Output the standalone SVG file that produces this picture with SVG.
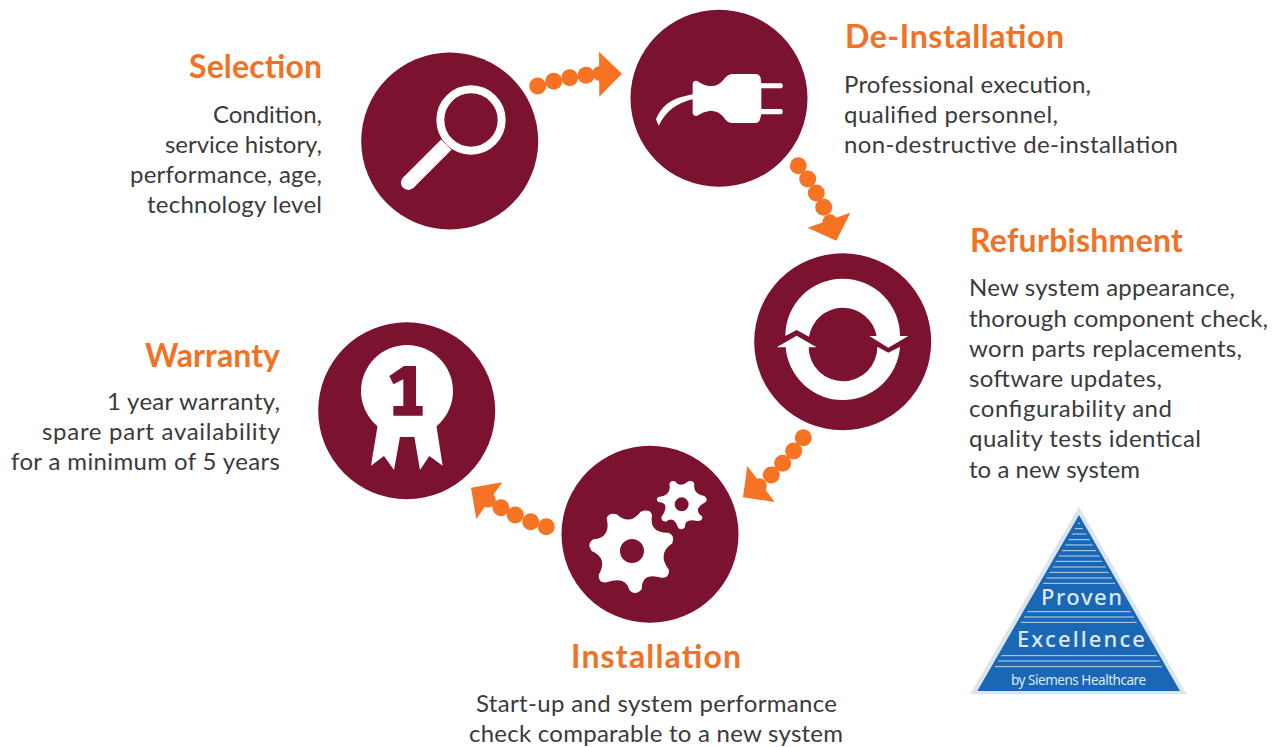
<svg xmlns="http://www.w3.org/2000/svg" width="1281" height="747" viewBox="0 0 1281 747">
<style>
text{font-family:"Lato","Open Sans","Liberation Sans",sans-serif}
.h{font-size:32px;font-weight:700;fill:#f37124}
.b{font-size:24px;fill:#3a3a3a}
.c{fill:#7a1230}
.w{fill:#fff}
.o{fill:#f57323}
.l{stroke:#c3d6ea;stroke-width:3;fill:none}
.t{fill:#dde8f3;font-family:"Noto Sans","Open Sans",sans-serif}
</style>
<rect width="1281" height="747" fill="#fff"/>
<g id="connectors">
<g id="c1" class="o"><circle cx="537.7" cy="86" r="8.5"/><circle cx="553.7" cy="81.3" r="8.5"/><circle cx="569.7" cy="77.7" r="8.5"/><circle cx="586" cy="75.3" r="8.5"/><circle cx="600" cy="73.5" r="7.5"/><polygon points="599,51.7 622,73.7 599.3,96.7"/></g>
<g id="c2" class="o"><circle cx="798.3" cy="165.7" r="8.5"/><circle cx="807.7" cy="179" r="8.5"/><circle cx="816.3" cy="193" r="8.5"/><circle cx="823.7" cy="207.3" r="8.5"/><circle cx="830" cy="221.7" r="7.5"/><polygon points="807.7,227.7 850.3,212.7 836.3,240.7"/></g>
<g id="c3" class="o"><circle cx="803.3" cy="437.7" r="8.5"/><circle cx="793.7" cy="451" r="8.5"/><circle cx="782.7" cy="463.3" r="8.5"/><circle cx="771.3" cy="475" r="8.5"/><circle cx="759.3" cy="485.7" r="7.5"/><polygon points="747.3,466 743,497.3 774.7,502"/></g>
<g id="c4" class="o"><circle cx="546.3" cy="526.7" r="8.5"/><circle cx="530.7" cy="521.7" r="8.5"/><circle cx="515.3" cy="515" r="8.5"/><circle cx="501" cy="507.7" r="8.5"/><circle cx="488.3" cy="500" r="7.5"/><polygon points="471,487.7 502.3,482.3 476.3,519"/></g>
</g>
<g id="selection">
<circle class="c" cx="449.7" cy="141" r="88.5"/>
<g transform="translate(350,40) scale(.33333)">
<circle cx="363" cy="240" r="92" fill="none" stroke="#fff" stroke-width="24"/>
<line x1="175" y1="428" x2="289" y2="314" stroke="#fff" stroke-width="44" stroke-linecap="butt"/>
<circle class="w" cx="175" cy="428" r="22"/>
</g>
<text class="h" x="189" y="78" textLength="133">Selection</text>
<text class="b" x="213" y="123" textLength="109">Condition,</text>
<text class="b" x="165" y="153" textLength="157">service history,</text>
<text class="b" x="130" y="183" textLength="192">performance, age,</text>
<text class="b" x="147" y="213" textLength="175">technology level</text>
</g>
<g id="de-installation">
<circle class="c" cx="719" cy="98.3" r="88.5"/>
<g transform="translate(620,0) scale(.33333)">
<path class="w" d="M218,250Q220,240 232,243Q255,260 275,258Q295,258 310,240Q320,225 335,222L405,222Q420,222 422,235L424,250L485,250Q492,258 485,265L424,265L424,327L485,327Q492,335 485,343L424,343L420,358Q418,369 405,369L335,369Q320,367 310,350Q295,332 270,332Q250,335 230,348Q220,350 218,340Z"/>
<path class="w" d="M220,283C170,292 130,305 108,358L116,377C140,330 170,310 220,297Z"/>
</g>
<text class="h" x="845" y="47.7" textLength="219">De-Installation</text>
<text class="b" x="844" y="92.5" textLength="247">Professional execution,</text>
<text class="b" x="844" y="122.5" textLength="214">qualified personnel,</text>
<text class="b" x="844" y="152.5" textLength="334">non-destructive de-installation</text>
</g>
<g id="refurbishment">
<circle class="c" cx="842.7" cy="341.7" r="88.5"/>
<g transform="translate(740,240) scale(.33333)">
<path class="w" d="M136,288A172,172 0 0 1 480,288L505,288L445,323L388,288L410,288A103,103 0 0 0 207,290L170,270Z"/>
<path class="w" d="M110,322L170,287L230,322L206,322A103,103 0 0 0 412,320L445,338L480,320A172,172 0 0 1 137,322Z"/>
</g>
<text class="h" x="970" y="252" textLength="213">Refurbishment</text>
<text class="b" x="969" y="296" textLength="266">New system appearance,</text>
<text class="b" x="969" y="327" textLength="299">thorough component check,</text>
<text class="b" x="969" y="357" textLength="273">worn parts replacements,</text>
<text class="b" x="969" y="387" textLength="193">software updates,</text>
<text class="b" x="969" y="417" textLength="203">configurability and</text>
<text class="b" x="969" y="447" textLength="232">quality tests identical</text>
<text class="b" x="969" y="478" textLength="171">to a new system</text>
</g>
<g id="installation">
<circle class="c" cx="650" cy="534.3" r="88.5"/>
<g transform="translate(460,420) scale(.33333)">
<path class="w" fill-rule="evenodd" d="M440,295Q445,277 470,283Q509,318 542,275Q570,265 576,285Q567,340 625,338Q645,345 637,370Q590,402 627,450Q628,475 605,473Q545,455 545,508Q525,530 508,510Q498,468 440,487Q415,490 416,465Q445,415 395,393Q378,370 400,358Q454,354 440,295ZM552,393A36,36 0 1 0 480,393A36,36 0 1 0 552,393Z"/>
<path class="w" fill-rule="evenodd" d="M628,192Q632,180 645,184Q660,205 685,184Q700,180 703,192Q698,222 733,228Q745,236 737,246Q696,268 727,290Q728,303 712,303Q673,294 675,322Q665,333 655,324Q642,285 618,305Q604,305 604,292Q633,248 595,246Q586,238 595,231Q636,227 628,192ZM686,253A21,21 0 1 0 644,253A21,21 0 1 0 686,253Z"/>
</g>
<text class="h" x="571" y="668" textLength="170">Installation</text>
<text class="b" x="476" y="712" textLength="361">Start-up and system performance</text>
<text class="b" x="469" y="742" textLength="374">check comparable to a new system</text>
</g>
<g id="warranty">
<circle class="c" cx="406.7" cy="410.7" r="88.5"/>
<g transform="translate(310,320) scale(.33333)">
<circle class="w" cx="291" cy="213" r="138"/>
<polygon class="w" points="204,310 183,437 222,408 252,450 270,350 313,350 330,450 358,408 398,437 378,310"/>
<polygon class="c" points="238,168 282,138 318,138 318,258 338,258 338,287 250,287 250,258 280,258 280,178 250,193"/>
</g>
<text class="h" x="145" y="366.5" textLength="135">Warranty</text>
<text class="b" x="107" y="410" textLength="173">1 year warranty,</text>
<text class="b" x="42" y="440" textLength="238">spare part availability</text>
<text class="b" x="11" y="470" textLength="269">for a minimum of 5 years</text>
</g>
<g id="proven-excellence">
<g transform="translate(960,500) scale(.33333)">
<polygon points="357,20 680,583 30,583" fill="#dbe5ea"/>
<polygon points="357,45 660,573 52,573" fill="#1a68b5"/>
<g class="l">
<path d="M354,70H360M345,86H369M336,102H379M326,119H389M316,135H398M306,152H408M297,168H418M287,184H427M278,201H437M268,217H446M259,234H456M250,250H465M202,335H512M192,351H522M183,367H530M124,467H590M114,483H598M105,500H606"/>
</g>
</g>
<text class="t" x="1041" y="605" font-size="22" font-weight="500" textLength="81">Proven</text>
<text class="t" x="1017" y="647" font-size="22" font-weight="500" textLength="128">Excellence</text>
<text class="t" x="1011" y="685" font-size="13.5" textLength="135">by Siemens Healthcare</text>
</g>
</svg>
